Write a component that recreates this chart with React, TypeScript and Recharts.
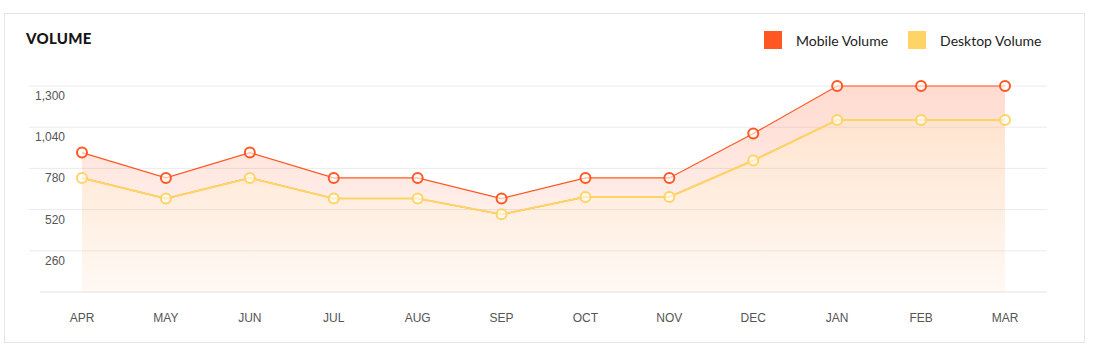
import React from "react";
import { AreaChart, Area, XAxis, YAxis, CartesianGrid } from "recharts";

const months = ["APR", "MAY", "JUN", "JUL", "AUG", "SEP", "OCT", "NOV", "DEC", "JAN", "FEB", "MAR"];
const mobileVolume = [880, 720, 880, 720, 720, 590, 720, 720, 1000, 1300, 1300, 1300];
const desktopVolume = [720, 590, 720, 590, 590, 490, 600, 600, 830, 1085, 1085, 1085];
const yTicks = [0, 260, 520, 780, 1040, 1300];

const MOBILE = "#FF5722";
const DESKTOP = "#FFD466";

const data = months.map((m, i) => ({ month: m, mobile: mobileVolume[i], desktop: desktopVolume[i] }));

const YTick = (props: any) => {
  const { y, payload } = props;
  if (payload.value === 0) return null;
  return (
    <text x={65} y={y + 14} textAnchor="end" fontSize={12} fill="#555" fontFamily="Liberation Sans, Arial, sans-serif">
      {payload.value.toLocaleString("en-US")}
    </text>
  );
};

const GridLine = (p: any) => {
  const isBase = Math.abs(p.y1 - (p.y + p.height)) < 1;
  return (
    <line
      x1={isBase ? p.x1 + 11 : p.x1}
      x2={p.x2}
      y1={p.y1}
      y2={p.y2}
      stroke={isBase ? "#e3e3e8" : "#ebebf0"}
      strokeWidth={1}
    />
  );
};

export default function App() {
  return (
    <div style={{ position: "absolute", left: 0, top: 0, width: 1102, height: 352 }}>
      <div
        style={{
          position: "absolute",
          left: 4,
          top: 13,
          width: 1079,
          height: 328,
          border: "1px solid #e4e4ec",
          background: "#fff",
        }}
      />
      <div
        style={{
          position: "absolute",
          left: 26,
          top: 29,
          fontFamily: "Lato, sans-serif",
          fontWeight: 900,
          fontSize: 15,
          color: "#151515",
          letterSpacing: 0.3,
        }}
      >
        VOLUME
      </div>
      <div style={{ position: "absolute", left: 764, top: 31, display: "flex", alignItems: "center", fontFamily: "Lato, sans-serif", fontSize: 14, color: "#222" }}>
        <span style={{ display: "inline-block", width: 18, height: 18, background: MOBILE, marginRight: 14 }} />
        <span style={{ marginRight: 20 }}>Mobile Volume</span>
        <span style={{ display: "inline-block", width: 18, height: 18, background: DESKTOP, marginRight: 14 }} />
        <span>Desktop Volume</span>
      </div>
      <div style={{ position: "absolute", left: 0, top: 0 }}>
        <AreaChart width={1102} height={352} data={data} margin={{ top: 86, right: 55, bottom: 30, left: 28 }}>
          <defs>
            <linearGradient id="mobFill" gradientUnits="userSpaceOnUse" x1="0" y1="86" x2="0" y2="292">
              <stop offset="0%" stopColor="#FF5722" stopOpacity={0.36} />
              <stop offset="100%" stopColor="#FF5722" stopOpacity={0.03} />
            </linearGradient>
            <linearGradient id="deskFill" gradientUnits="userSpaceOnUse" x1="0" y1="86" x2="0" y2="292">
              <stop offset="0%" stopColor="#FF9540" stopOpacity={0.48} />
              <stop offset="100%" stopColor="#FF9540" stopOpacity={0.1} />
            </linearGradient>
          </defs>
          <CartesianGrid vertical={false} horizontal={GridLine as any} />
          <XAxis
            dataKey="month"
            axisLine={false}
            tickLine={false}
            tickSize={0}
            tickMargin={21}
            height={30}
            padding={{ left: 53, right: 42 }}
            tick={{ fontSize: 12, fill: "#555", fontFamily: "Liberation Sans, Arial, sans-serif" }}
            interval={0}
          />
          <YAxis
            width={1}
            domain={[0, 1300]}
            ticks={yTicks}
            axisLine={false}
            tickLine={false}
            tick={<YTick />}
            interval={0}
          />
          <Area
            type="linear"
            dataKey="desktop"
            stroke="none"
            fill="url(#deskFill)"
            dot={false}
            activeDot={false}
            isAnimationActive={false}
          />
          <Area
            type="linear"
            dataKey={(d: any) => [d.desktop, d.mobile]}
            name="mobile"
            stroke={MOBILE}
            strokeWidth={1.2}
            fill="url(#mobFill)"
            dot={{ r: 5, fill: "#fff", stroke: MOBILE, strokeWidth: 2 }}
            activeDot={false}
            isAnimationActive={false}
          />
          <Area
            type="linear"
            dataKey="desktop"
            stroke={DESKTOP}
            strokeWidth={2}
            fill="none"
            dot={{ r: 5, fill: "#fff", stroke: DESKTOP, strokeWidth: 2 }}
            activeDot={false}
            isAnimationActive={false}
          />
        </AreaChart>
      </div>
    </div>
  );
}
